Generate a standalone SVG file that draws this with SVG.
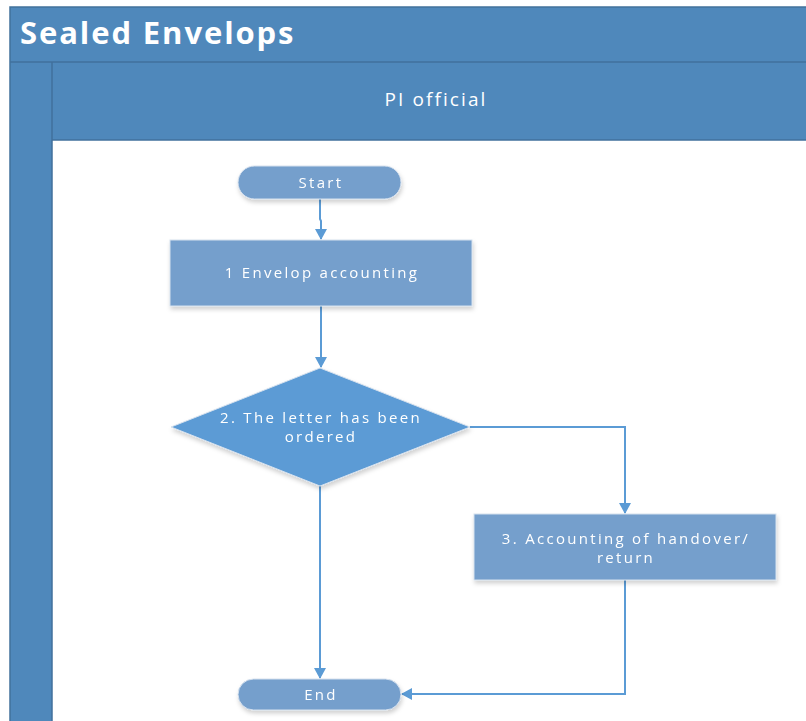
<svg xmlns="http://www.w3.org/2000/svg" width="806" height="721" viewBox="0 0 806 721">
<defs>
<style>
.hdr{fill:#4F88BB;stroke:#41719C;stroke-width:1.5}
.node{fill:#759FCC;stroke:#D6E1EE;stroke-width:1}
.dia{fill:#5B9BD5;stroke:#D6E1EE;stroke-width:1}
.t{font-family:"Open Sans","Liberation Sans",sans-serif;fill:#FFFFFF;text-anchor:middle}
.nt{font-size:15px;letter-spacing:2.3px}
.conn{fill:none;stroke:#5B9BD5;stroke-width:2}
</style>
<marker id="arr" markerWidth="12" markerHeight="12" refX="10" refY="6" orient="auto" markerUnits="userSpaceOnUse">
<path d="M0,0 L11,6 L0,12 Z" fill="#5B9BD5"/>
</marker>
<filter id="sh" x="-10%" y="-10%" width="130%" height="140%">
<feDropShadow dx="1" dy="3" stdDeviation="2" flood-color="#000" flood-opacity="0.18"/>
</filter>
</defs>
<rect width="806" height="721" fill="#FFFFFF"/>
<g id="pool">
<rect class="hdr" x="10" y="7" width="800" height="720"/>
<rect x="52" y="140" width="760" height="590" fill="#FFFFFF"/>
<line x1="10" y1="62" x2="806" y2="62" stroke="#41719C" stroke-width="1.5"/>
<line x1="52" y1="62" x2="52" y2="721" stroke="#41719C" stroke-width="1.5"/>
<line x1="52" y1="140" x2="806" y2="140" stroke="#41719C" stroke-width="1.5"/>
<text class="t" x="20" y="44" style="text-anchor:start;font-size:31px;font-weight:bold;letter-spacing:1.9px">Sealed Envelops</text>
<text class="t" x="436" y="106" style="font-size:19px;letter-spacing:2.1px">PI official</text>
</g>
<g id="connectors">
<path class="conn" d="M320,199 L320,219 L321,221 L321,239" marker-end="url(#arr)"/>
<path class="conn" d="M321,306 L321,367" marker-end="url(#arr)"/>
<path class="conn" d="M470,427 L625,427 L625,513" marker-end="url(#arr)"/>
<path class="conn" d="M320,486 L320,678" marker-end="url(#arr)"/>
<path class="conn" d="M625,580 L625,694 L402,694" marker-end="url(#arr)"/>
</g>
<g id="start" filter="url(#sh)">
<rect class="node" x="238" y="166" width="163" height="33" rx="16.5"/>
<text class="t nt" x="321" y="188">Start</text>
</g>
<g id="step1" filter="url(#sh)">
<rect class="node" x="170" y="240" width="302" height="66"/>
<text class="t nt" x="322" y="278">1 Envelop accounting</text>
</g>
<g id="decision2" filter="url(#sh)">
<polygon class="dia" points="320,368 470,427 320,486 171,427"/>
<text class="t nt" x="321" y="423">2. The letter has been</text>
<text class="t nt" x="321" y="442">ordered</text>
</g>
<g id="step3" filter="url(#sh)">
<rect class="node" x="474" y="514" width="302" height="66"/>
<text class="t nt" x="626" y="544">3. Accounting of handover/</text>
<text class="t nt" x="626" y="563">return</text>
</g>
<g id="end" filter="url(#sh)">
<rect class="node" x="238" y="679" width="163" height="31" rx="15.5"/>
<text class="t nt" x="321" y="700">End</text>
</g>
</svg>
